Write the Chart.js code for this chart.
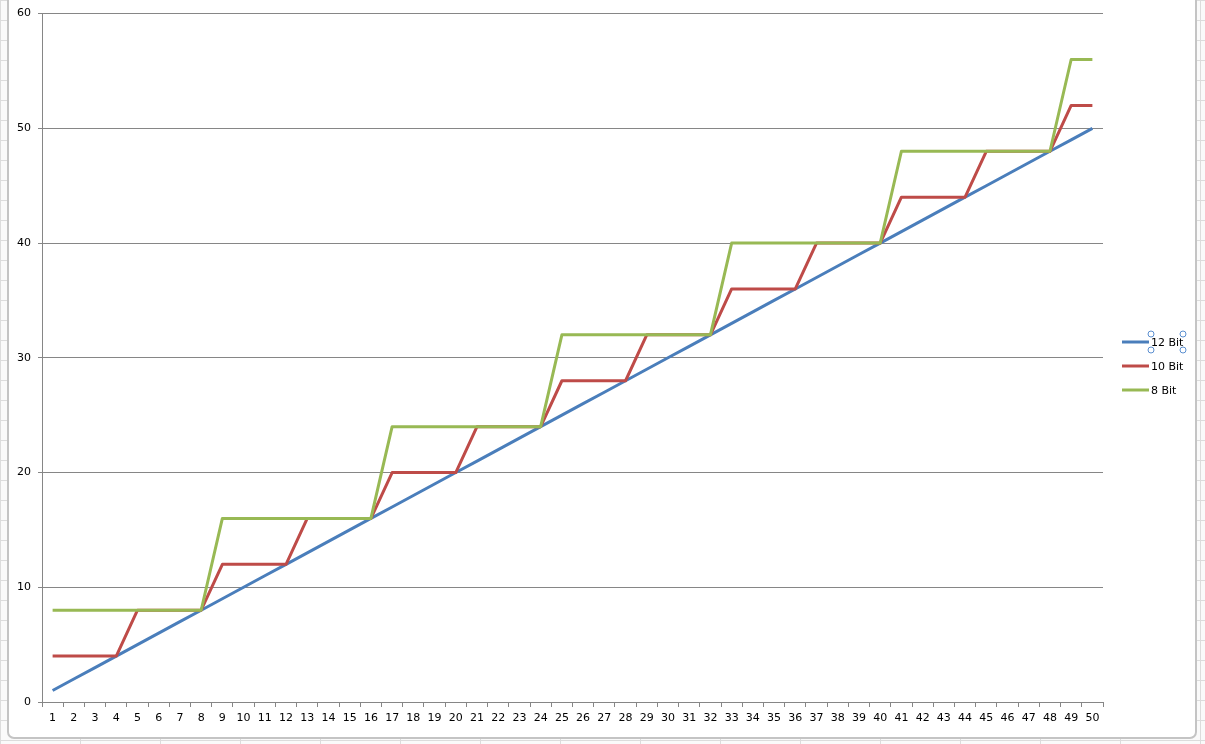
<!DOCTYPE html>
<html>
<head>
<meta charset="utf-8">
<script src="https://cdn.jsdelivr.net/npm/chart.js@4/dist/chart.umd.min.js"></script>
<style>
    html, body { margin: 0; padding: 0; }
    body {
        width: 1205px; height: 744px; overflow: hidden; position: relative;
        background-color: #fafafa;
        background-image:
            linear-gradient(#dcdcdc 1px, transparent 1px),
            linear-gradient(90deg, #dcdcdc 1px, transparent 1px);
        background-size: 80px 20px;
    }
    #frame {
        position: absolute; left: 7px; top: -10px; width: 1186px; height: 745px;
        background: #fff; border: 2px solid #c4c4c4; border-radius: 7px;
    }
    #chartWrap { position: absolute; left: 0; top: 0; width: 1205px; height: 744px; }
</style>
</head>
<body>
<div id="frame"></div>
<div id="chartWrap"><canvas id="bitChart" width="1205" height="744"></canvas></div>
<script>
// Input steps along the x axis
const steps = ['1','2','3','4','5','6','7','8','9','10','11','12','13','14','15','16','17','18','19','20',
    '21','22','23','24','25','26','27','28','29','30','31','32','33','34','35','36','37','38','39','40',
    '41','42','43','44','45','46','47','48','49','50'];

// Quantised values per bit depth
const bit12 = [1,2,3,4,5,6,7,8,9,10,11,12,13,14,15,16,17,18,19,20,21,22,23,24,25,26,27,28,29,30,
    31,32,33,34,35,36,37,38,39,40,41,42,43,44,45,46,47,48,49,50];
const bit10 = [4,4,4,4,8,8,8,8,12,12,12,12,16,16,16,16,20,20,20,20,24,24,24,24,28,28,28,28,32,32,
    32,32,36,36,36,36,40,40,40,40,44,44,44,44,48,48,48,48,52,52];
const bit8 = [8,8,8,8,8,8,8,8,16,16,16,16,16,16,16,16,24,24,24,24,24,24,24,24,32,32,32,32,32,32,
    32,32,40,40,40,40,40,40,40,40,48,48,48,48,48,48,48,48,56,56];

const yTicks = [0, 10, 20, 30, 40, 50, 60];

const axisGrey = '#868686';
const font = { family: 'DejaVu Sans', size: 11 };

// Excel style legend on the right, with the selection handles round the first entry
const sideLegend = {
    id: 'sideLegend',
    afterDraw(chart) {
        const ctx = chart.ctx;
        ctx.save();
        ctx.font = `${font.size}px ${font.family}`;
        ctx.textBaseline = 'middle';
        ctx.textAlign = 'left';
        chart.data.datasets.forEach((ds, i) => {
            const y = 342 + i * 24;
            ctx.strokeStyle = ds.borderColor;
            ctx.lineWidth = 3;
            ctx.beginPath();
            ctx.moveTo(1122, y);
            ctx.lineTo(1149, y);
            ctx.stroke();
            ctx.fillStyle = '#000';
            ctx.fillText(ds.label, 1151, y + 1);
        });
        ctx.strokeStyle = '#5b8fd0';
        ctx.fillStyle = '#fff';
        ctx.lineWidth = 1;
        [[1151, 334], [1183, 334], [1151, 350], [1183, 350]].forEach(([x, y]) => {
            ctx.beginPath();
            ctx.arc(x, y, 3, 0, Math.PI * 2);
            ctx.fill();
            ctx.stroke();
        });
        ctx.restore();
    }
};

const ctx = document.getElementById('bitChart').getContext('2d');
new Chart(ctx, {
    type: 'line',
    data: {
        labels: steps,
        datasets: [
            { label: '12 Bit', data: bit12, borderColor: '#4a7ebb', order: 3 },
            { label: '10 Bit', data: bit10, borderColor: '#be4b48', order: 2 },
            { label: '8 Bit', data: bit8, borderColor: '#98b954', order: 1 }
        ]
    },
    options: {
        responsive: false,
        animation: false,
        devicePixelRatio: 1,
        layout: { padding: { top: 12, right: 102, left: 0, bottom: 0 } },
        elements: {
            line: { borderWidth: 3, tension: 0, borderJoinStyle: 'round', fill: false },
            point: { radius: 0, hoverRadius: 0 }
        },
        plugins: { legend: { display: false }, tooltip: { enabled: false } },
        scales: {
            x: {
                offset: true,
                grid: { display: true, drawOnChartArea: false, drawTicks: true, tickLength: 5, color: axisGrey, offset: true },
                border: { display: true, color: axisGrey, width: 1 },
                ticks: { autoSkip: false, maxRotation: 0, minRotation: 0, padding: 5, color: '#000', font },
                afterFit: (scale) => { scale.height = 42; }
            },
            y: {
                min: 0,
                max: 60,
                afterBuildTicks: (scale) => { scale.ticks = yTicks.map(v => ({ value: v })); },
                grid: { color: axisGrey, tickLength: 4, lineWidth: 1 },
                border: { display: true, color: axisGrey, width: 1 },
                ticks: { padding: 7, color: '#000', font },
                afterFit: (scale) => { scale.width = 42; }
            }
        }
    },
    plugins: [sideLegend]
});
</script>
</body>
</html>
